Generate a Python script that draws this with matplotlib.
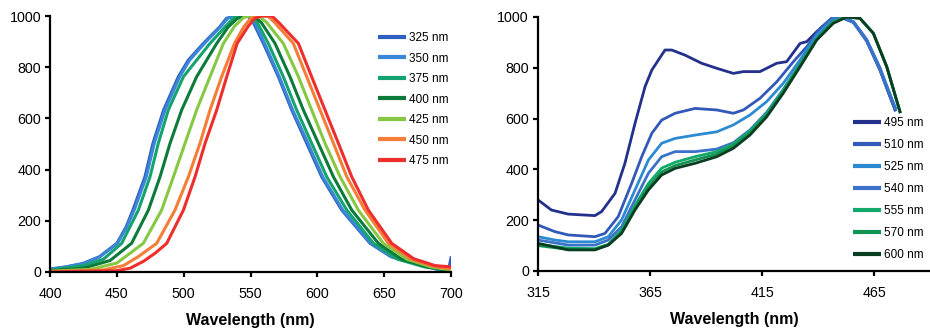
import matplotlib
matplotlib.use('Agg')
import matplotlib.pyplot as plt

plt.rcParams['font.family'] = ['Liberation Sans', 'DejaVu Sans']

# ---- left panel: emission spectra, one per excitation wavelength ----
em_labels = ['325 nm', '350 nm', '375 nm', '400 nm', '425 nm', '450 nm', '475 nm']
em_colors = ['#2f5fbf', '#3b86d6', '#14a36e', '#0b7a3b', '#86c843', '#f57d35', '#ee2d2d']

em_x_325 = [400, 412, 425, 437, 450, 457, 462, 471, 477, 485, 496, 503.5, 514.7, 527, 532, 538, 548,
            552, 559.6, 570.8, 580.8, 592, 603.2, 618.2, 639.4, 655, 674, 690, 698, 700]
em_y_325 = [10, 20, 34, 60, 112, 177, 242, 372, 503, 633, 763, 828, 893, 958, 991, 1000, 1000,
            975, 893, 763, 633, 503, 372, 242, 112, 60, 34, 10, 5, 55]
em_x_350 = [400, 412, 425, 437, 450.5, 457.5, 463, 472, 478, 486, 497, 504.5, 515.5, 527.5, 533, 539, 549,
            553, 560.5, 571.5, 581.5, 593, 604, 619, 640, 656, 675, 690, 700]
em_y_350 = [12, 20, 32, 58, 112, 177, 242, 372, 503, 633, 763, 828, 893, 958, 991, 1000, 1000,
            975, 893, 763, 633, 503, 372, 242, 112, 58, 30, 10, 4]
em_x_375 = [400, 425, 440, 453.6, 466.1, 474.8, 481, 488.5, 499.8, 519.7, 531, 538, 543, 550,
            555, 563.3, 574.5, 584.5, 595.7, 607, 622, 641.9, 660, 680, 700]
em_y_375 = [8, 25, 50, 112, 242, 372, 503, 633, 763, 893, 958, 995, 1000, 1000,
            975, 893, 763, 633, 503, 372, 242, 112, 50, 20, 5]
em_x_400 = [400, 425, 445, 461, 473.6, 482.3, 489.8, 498.5, 509.7, 524.7, 533.4, 540, 545, 552,
            558, 568.3, 579.5, 589.5, 600.7, 612, 625.7, 645.6, 663, 682, 700]
em_y_400 = [5, 15, 45, 112, 242, 372, 503, 633, 763, 893, 958, 990, 1000, 1000,
            975, 893, 763, 633, 503, 372, 242, 112, 50, 20, 5]
em_x_425 = [400, 430, 450, 469.8, 483.5, 492.3, 501, 509.7, 519.7, 529.7, 538, 545, 550, 556,
            562, 574.5, 585.8, 595.7, 605.7, 617, 630.6, 649.3, 667, 685, 700]
em_y_425 = [3, 10, 35, 112, 242, 372, 503, 633, 763, 893, 960, 995, 1000, 1000,
            975, 893, 763, 633, 503, 372, 242, 112, 50, 20, 8]
em_x_450 = [400, 440, 455, 466, 479.8, 493.5, 503.5, 512.2, 519.7, 528.4, 538, 545, 550, 556, 563,
            568, 582, 592, 602, 612, 622, 635.6, 653.1, 670, 687, 700]
em_y_450 = [2, 8, 25, 60, 112, 242, 372, 503, 633, 763, 893, 958, 990, 1000, 1000,
            975, 893, 763, 633, 503, 372, 242, 112, 50, 22, 12]
em_x_475 = [400, 450, 460, 470, 479, 487.3, 499.8, 508.5, 516, 524.7, 532.2, 540, 548, 553, 558, 566,
            571, 585.8, 595.7, 605.7, 615.7, 625.7, 638.1, 655.6, 672, 688, 700]
em_y_475 = [0, 5, 15, 42, 75, 112, 242, 372, 503, 633, 763, 893, 958, 990, 1000, 1000,
            975, 893, 763, 633, 503, 372, 242, 112, 52, 25, 20]

em_x = [em_x_325, em_x_350, em_x_375, em_x_400, em_x_425, em_x_450, em_x_475]
em_y = [em_y_325, em_y_350, em_y_375, em_y_400, em_y_425, em_y_450, em_y_475]

# ---- right panel: excitation spectra, one per emission wavelength ----
ex_labels = ['495 nm', '510 nm', '525 nm', '540 nm', '555 nm', '570 nm', '600 nm']
ex_colors = ['#23308c', '#3359b8', '#2b8ad2', '#3a72c9', '#12aa6a', '#129352', '#0a3d22']

ex_x_495 = [315, 321, 328.5, 340.4, 343.4, 349.4, 353.8, 358.3, 362.8, 365.8, 371.7, 374.7, 380.6,
            388, 394.8, 402.2, 406.7, 414.1, 421.6, 426, 432, 435, 439.4, 446.8, 450, 455.8, 461.7, 467.7, 474.4]
ex_y_495 = [280, 240, 224, 218, 234, 306, 424, 581, 726, 791, 870, 870, 850,
            818, 798, 778, 785, 785, 818, 824, 896, 903, 942, 1000, 1000, 981, 909, 791, 634]
ex_x_510 = [315, 322.5, 328.5, 340.4, 344.9, 350.8, 356.8, 361.3, 365.8, 370.2, 376.2, 385.1, 394.8,
            402.2, 406.7, 414.1, 421.6, 429, 435, 441, 446.8, 450, 455.8, 461.7, 467.7, 474.4]
ex_y_510 = [181, 155, 142, 135, 148, 214, 345, 450, 542, 594, 621, 640, 634,
            621, 634, 680, 745, 824, 883, 955, 1000, 1000, 978, 905, 790, 634]
ex_x_525 = [315, 322.5, 328.5, 340.4, 346.4, 352.3, 358.3, 364.3, 370.2, 376.2, 385.1, 394.8, 402.2,
            409.6, 417.1, 424.5, 432, 439.4, 446.8, 450, 455.8, 461.7, 467.7, 474.7]
ex_y_525 = [135, 122, 115, 115, 135, 201, 319, 437, 503, 522, 535, 548, 575,
            614, 667, 739, 831, 929, 995, 1000, 980, 910, 795, 640]
ex_x_540 = [315, 328.5, 340.4, 346.4, 352.3, 358.3, 364.3, 370.2, 376.2, 385.1, 394.8, 402.2,
            409.6, 417.1, 424.5, 432, 439.4, 446.8, 450, 455.8, 461.7, 467.7, 474.4]
ex_y_540 = [122, 102, 102, 122, 174, 280, 385, 450, 470, 470, 480, 505,
            555, 625, 715, 815, 915, 990, 1000, 982, 912, 800, 640]
ex_x_555 = [315, 328.5, 340.4, 346.4, 352.3, 358.3, 364.3, 370.2, 376.2, 385.1, 394.8, 402.2,
            409.6, 417.1, 424.5, 432, 439.4, 446.8, 452, 458.7, 464.7, 470.7, 476.6]
ex_y_555 = [105, 90, 88, 105, 160, 258, 345, 405, 428, 450, 470, 500,
            550, 620, 712, 815, 915, 982, 1000, 995, 936, 804, 627]
ex_x_570 = [315, 328.5, 340.4, 346.4, 352.3, 358.3, 364.3, 370.2, 376.2, 385.1, 394.8, 402.2,
            409.6, 417.1, 424.5, 432, 439.4, 446.8, 452.8, 458.7, 464.7, 470.7, 476.6]
ex_y_570 = [100, 85, 85, 103, 152, 248, 330, 390, 415, 437, 460, 492,
            543, 614, 706, 810, 912, 978, 1000, 995, 936, 804, 627]
ex_x_600 = [315, 328.5, 340.4, 346.4, 352.3, 358.3, 364.3, 370.2, 376.2, 385.1, 394.8, 402.2,
            409.6, 417.1, 424.5, 432, 439.4, 446.8, 452.8, 458.7, 464.7, 470.7, 476.6]
ex_y_600 = [109, 83, 83, 102, 148, 240, 319, 378, 404, 424, 450, 483,
            535, 607, 700, 804, 909, 975, 1000, 995, 936, 804, 627]

ex_x = [ex_x_495, ex_x_510, ex_x_525, ex_x_540, ex_x_555, ex_x_570, ex_x_600]
ex_y = [ex_y_495, ex_y_510, ex_y_525, ex_y_540, ex_y_555, ex_y_570, ex_y_600]


def style_axes(ax, xticks):
    for side in ['top', 'right']:
        ax.spines[side].set_visible(False)
    for side in ['left', 'bottom']:
        ax.spines[side].set_linewidth(1.6)
        ax.spines[side].set_color('black')
    ax.set_ylim(0, 1000)
    ax.set_yticks([0, 200, 400, 600, 800, 1000])
    ax.set_xticks(xticks)
    ax.tick_params(axis='both', which='major', direction='out', length=3.5, width=1.6,
                   labelsize=10.3, colors='black')
    ax.tick_params(axis='x', pad=7)
    ax.tick_params(axis='y', pad=3)
    ax.set_xlabel('Wavelength (nm)', fontsize=11.5, fontweight='bold', labelpad=9)


def add_legend(ax, anchor, spacing, boxed):
    leg = ax.legend(loc='upper left', bbox_to_anchor=anchor, frameon=boxed, fontsize=8.5,
                    handlelength=2.4, handletextpad=0.25, labelspacing=spacing,
                    borderpad=0.2 if boxed else 0, borderaxespad=0, fancybox=False)
    for line in leg.get_lines():
        line.set_linewidth(3.0)
        line.set_solid_capstyle('butt')
    if boxed:
        leg.get_frame().set_facecolor('white')
        leg.get_frame().set_edgecolor('none')
        leg.get_frame().set_alpha(1)
    return leg


fig = plt.figure(figsize=(9.3, 3.3), dpi=100)

ax1 = fig.add_axes([0.0538, 0.1758, 0.4312, 0.7757])
for x, y, c, lab in zip(em_x, em_y, em_colors, em_labels):
    ax1.plot(x, y, color=c, lw=2.2, label=lab, solid_joinstyle='round')
ax1.set_xlim(400, 700)
style_axes(ax1, [400, 450, 500, 550, 600, 650, 700])
add_legend(ax1, (0.818, 0.937), 0.72, False)

ax2 = fig.add_axes([0.5785, 0.1788, 0.4215, 0.7697])
for x, y, c, lab in zip(ex_x, ex_y, ex_colors, ex_labels):
    ax2.plot(x, y, color=c, lw=2.0, label=lab, solid_joinstyle='round')
ax2.set_xlim(315, 490)
style_axes(ax2, [315, 365, 415, 465])
add_legend(ax2, (0.797, 0.615), 0.85, True)

fig.savefig('out.png', dpi=100)
